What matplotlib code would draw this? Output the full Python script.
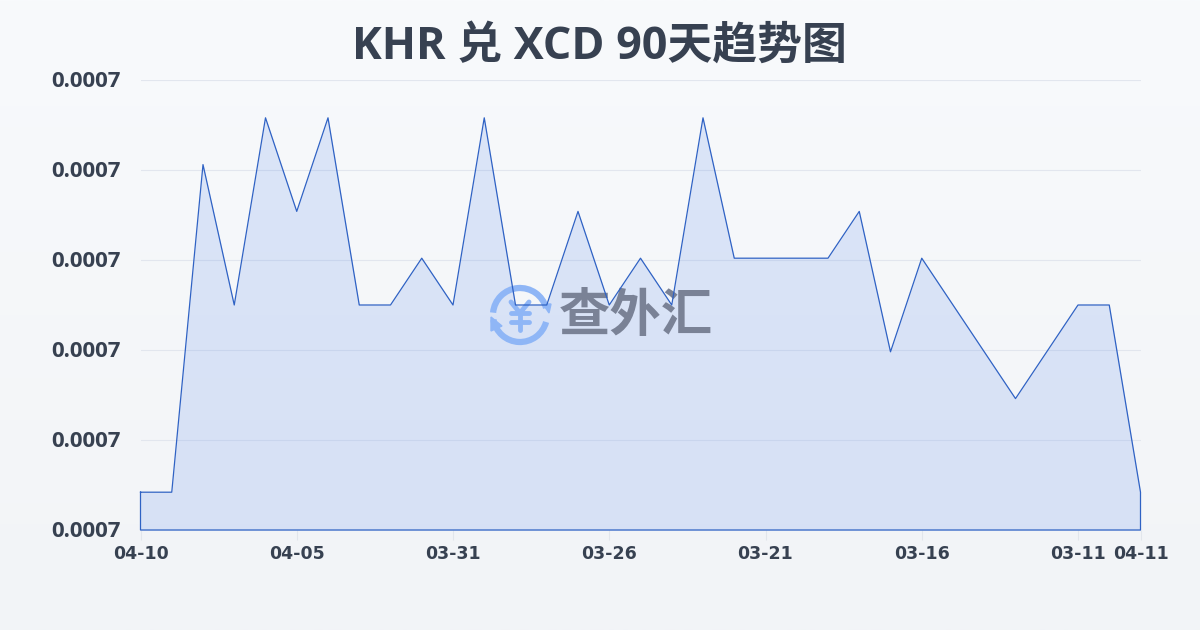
import numpy as np
import matplotlib
matplotlib.use("Agg")
import matplotlib.pyplot as plt
from matplotlib.patches import Arc, Polygon
from matplotlib.transforms import Affine2D, ScaledTranslation

# dates on the x axis, one entry per tick
tick_idx = [0, 5, 10, 15, 20, 25, 30, 32]
tick_labels = ["04-10", "04-05", "03-31", "03-26", "03-21", "03-16", "03-11", "04-11"]

# KHR/XCD rate
rates = [0.0007021, 0.0007021, 0.0007203, 0.0007125, 0.0007229, 0.0007177, 0.0007229,
         0.0007125, 0.0007125, 0.0007151, 0.0007125, 0.0007229, 0.0007125, 0.0007125,
         0.0007177, 0.0007125, 0.0007151, 0.0007125, 0.0007229, 0.0007151, 0.0007151,
         0.0007151, 0.0007151, 0.0007177, 0.0007099, 0.0007151, 0.0007125, 0.0007099,
         0.0007073, 0.0007099, 0.0007125, 0.0007125, 0.0007021]
y_ticks = [0.000700, 0.000705, 0.000710, 0.000715, 0.000720, 0.000725]

title = "KHR 兑 XCD 90天趋势图"
watermark = "查外汇"

CJK = ["Noto Sans CJK SC", "DejaVu Sans"]
DARK = "#374151"
LINE = "#2f62c4"
LOGO = "#8fb6f6"

fig = plt.figure(figsize=(12, 6.3), dpi=100)

# background gradient
bg = fig.add_axes([0, 0, 1, 1], zorder=0)
bg.imshow(np.linspace(0, 1, 256).reshape(-1, 1), aspect="auto",
          cmap=matplotlib.colors.LinearSegmentedColormap.from_list("bg", ["#f8fafc", "#f2f4f7"]))
bg.axis("off")

ax = fig.add_axes([140.5 / 1200, 100 / 630, 1000 / 1200, 450 / 630], zorder=1)
ax.patch.set_alpha(0)
x = np.arange(len(rates))
ax.fill_between(x, rates, y_ticks[0], color="#3b74ea", alpha=0.15, lw=0, zorder=2)
ax.plot(list(x) + [x[-1], 0, 0], rates + [y_ticks[0], y_ticks[0], rates[0]],
        color=LINE, lw=0.9, zorder=6, clip_on=False)

ax.set_xlim(0, len(rates) - 1)
ax.set_ylim(y_ticks[0], y_ticks[-1])
ax.set_xticks(tick_idx)
ax.set_xticklabels(tick_labels, fontsize=12.5, fontweight="bold", color=DARK, family="DejaVu Sans")
ax.set_yticks(y_ticks)
ax.set_yticklabels([f"{v:.4f}" for v in y_ticks], fontsize=16, fontweight="bold", color=DARK,
                   family="Open Sans")
ax.tick_params(axis="x", length=7, width=0.8, color="#e2e6ec", pad=4)
ax.tick_params(axis="y", length=0, pad=14)
ax.grid(axis="y", color="#e2e6ee", lw=0.8, zorder=1)
ax.set_axisbelow(True)
for s in ax.spines.values():
    s.set_visible(False)
up = ScaledTranslation(0, 1 / 100, fig.dpi_scale_trans)
for lab in ax.get_yticklabels():
    lab.set_transform(lab.get_transform() + up)

fig.text(599 / 1200, 1 - 47.5 / 630, title, ha="center", va="center", fontsize=32.3, fontweight="bold",
         color=DARK, family=["Open Sans", "Noto Sans CJK SC"])

# watermark logo, drawn in pixel coordinates
pix = Affine2D().scale(1 / 1200, -1 / 630).translate(0, 1) + fig.transFigure
for t1, t2 in [(185, 345), (15, 170)]:
    ax.add_patch(Arc((520, 315), 54, 54, theta1=t1, theta2=t2, color=LOGO, lw=4.5,
                     transform=pix, zorder=4, clip_on=False))
ax.add_patch(Polygon([(543, 304), (551, 304), (549, 313)], color=LOGO, transform=pix, zorder=4))
ax.add_patch(Polygon([(491, 317), (502, 326), (491, 331)], color=LOGO, transform=pix, zorder=4))
for xs, ys in [([511, 520, 529], [302, 313, 302]), ([520, 520], [313, 330]),
               ([511, 529], [313, 313]), ([511, 529], [322, 322])]:
    ax.plot(xs, ys, color=LOGO, lw=3.5, transform=pix, zorder=4, solid_capstyle="round")
ax.text(636, 316, watermark, ha="center", va="center", fontsize=37, fontweight="bold",
        color="#7a8296", family=CJK, transform=pix, zorder=5)

fig.savefig("out.png", dpi=100)
